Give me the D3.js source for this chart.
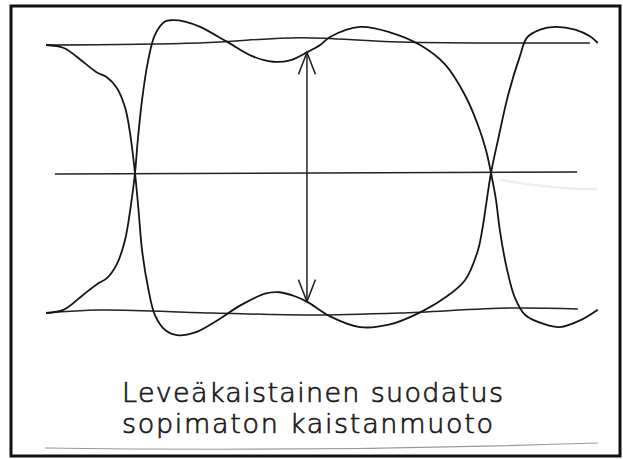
<!DOCTYPE html>
<html lang="fi">
<head>
    <meta charset="UTF-8">
    <title>Silmäkuvio</title>
    <script src="https://d3js.org/d3.v7.min.js"></script>
    <style>
        body { margin: 0; background: #fff; }
        .curve { fill: none; stroke: #151515; stroke-width: 1.8; }
        .ref { fill: none; stroke: #222; stroke-width: 1.5; }
        text { font-family: "DejaVu Sans", sans-serif; font-weight: 200; fill: #1a1a1a; stroke: #1a1a1a; stroke-width: 0.7; }
    </style>
</head>
<body>
    <svg width="623" height="459"></svg>

    <script>
        // time in symbol periods (crossings at 0 and 1), amplitude normalised to +-1
        const curveFall = [
            [-0.25, 0.985], [-0.20, 0.963], [-0.146, 0.86], [-0.107, 0.78], [-0.079, 0.745],
            [-0.051, 0.665], [-0.028, 0.52], [-0.014, 0.33], [0, 0.03], [0.01, -0.25], [0.02, -0.55],
            [0.037, -0.83], [0.056, -1.03], [0.084, -1.14], [0.118, -1.18], [0.169, -1.16],
            [0.225, -1.08], [0.295, -0.96], [0.365, -0.87], [0.407, -0.86], [0.449, -0.89],
            [0.483, -0.93], [0.548, -1.04], [0.632, -1.12], [0.716, -1.10], [0.801, -1.01],
            [0.871, -0.90], [0.927, -0.77], [0.963, -0.55], [0.975, -0.40], [1.0, 0.03],
            [1.02, 0.28], [1.048, 0.61], [1.081, 0.90], [1.101, 1.04], [1.138, 1.10],
            [1.18, 1.12], [1.236, 1.10], [1.278, 1.05], [1.30, 1.0]
        ];
        const curveRise = [
            [-0.25, -1.015], [-0.20, -0.99], [-0.146, -0.88], [-0.107, -0.80], [-0.079, -0.755],
            [-0.051, -0.65], [-0.028, -0.47], [-0.012, -0.22], [0, 0.03], [0.008, 0.28], [0.02, 0.58],
            [0.037, 0.87], [0.056, 1.06], [0.084, 1.16], [0.104, 1.17], [0.140, 1.16],
            [0.183, 1.12], [0.258, 1.01], [0.331, 0.90], [0.388, 0.86], [0.435, 0.87],
            [0.483, 0.93], [0.52, 0.985], [0.548, 1.045], [0.632, 1.12], [0.716, 1.08],
            [0.801, 0.985], [0.871, 0.84], [0.927, 0.61], [0.963, 0.39], [0.986, 0.20],
            [1.0, 0.03], [1.014, -0.17], [1.025, -0.40], [1.045, -0.69], [1.067, -0.90],
            [1.096, -1.03], [1.152, -1.10], [1.194, -1.12], [1.25, -1.07], [1.30, -0.99]
        ];
        const levelTop = [[-0.25, 0.985], [0.183, 1.0], [0.463, 1.04], [0.744, 1.007], [1.278, 1.0]];
        const levelMid = [[-0.225, 0.022], [1.242, 0.037]];
        const levelBottom = [[-0.25, -1.015], [-0.098, -0.993], [0.219, -1.015], [0.492, -1.03],
            [0.744, -1.015], [1.053, -0.978], [1.244, -0.985]];
        const eyeOpening = { t: 0.483, top: 0.93, bottom: -0.93 };
        const caption = ["Leveäkaistainen suodatus", "sopimaton kaistanmuoto"];

        const svg = d3.select("svg");

        const x = d3.scaleLinear().domain([0, 1]).range([135, 491]);
        const y = d3.scaleLinear().domain([-1, 1]).range([311, 43]);

        // frame
        svg.append("rect")
            .attr("x", 11).attr("y", 6)
            .attr("width", 609).attr("height", 450)
            .attr("fill", "none")
            .attr("stroke", "#111")
            .attr("stroke-width", 3);

        const smooth = d3.line()
            .x(d => x(d[0]))
            .y(d => y(d[1]))
            .curve(d3.curveCatmullRom.alpha(0.5));

        [levelTop, levelMid, levelBottom].forEach(l => {
            svg.append("path").attr("class", "ref").attr("d", smooth(l));
        });

        [curveFall, curveRise].forEach(c => {
            svg.append("path").attr("class", "curve").attr("d", smooth(c));
        });

        // eye opening arrow
        const ax = x(eyeOpening.t), ay1 = y(eyeOpening.top), ay2 = y(eyeOpening.bottom);
        svg.append("line")
            .attr("class", "ref")
            .attr("x1", ax).attr("x2", ax)
            .attr("y1", ay1).attr("y2", ay2);
        svg.append("path")
            .attr("class", "ref")
            .attr("d", `M${ax - 8.5},${ay1 + 22} L${ax},${ay1} L${ax + 8.5},${ay1 + 22}`);
        svg.append("path")
            .attr("class", "ref")
            .attr("d", `M${ax - 8.5},${ay2 - 22} L${ax},${ay2} L${ax + 8.5},${ay2 - 22}`);

        // caption
        const lens = [381, 371];
        caption.forEach((s, i) => {
            svg.append("text")
                .attr("x", 122)
                .attr("y", 402 + i * 31)
                .attr("font-size", 27)
                .attr("textLength", lens[i])
                .attr("lengthAdjust", "spacing")
                .text(s);
        });

        // faint scan marks
        svg.append("path")
            .attr("d", "M45,448 Q320,452 598,443")
            .attr("fill", "none")
            .attr("stroke", "#999")
            .attr("stroke-width", 1.2);
        svg.append("path")
            .attr("d", "M500,180 Q560,190 597,189")
            .attr("fill", "none")
            .attr("stroke", "#eee")
            .attr("stroke-width", 2.5);
    </script>
</body>
</html>
